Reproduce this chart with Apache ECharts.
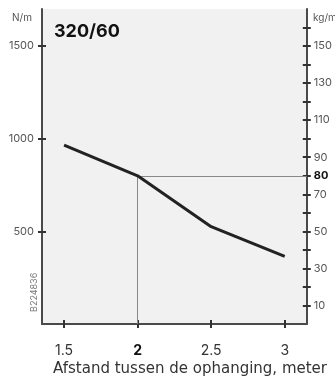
<!DOCTYPE html>
<html><head><meta charset="utf-8">
<script src="https://cdn.jsdelivr.net/npm/echarts@6/dist/echarts.min.js"></script>
<style>html,body{margin:0;padding:0;background:#fff}#c{width:335px;height:382px}</style>
</head><body><div id="c"></div>
<script>
const distances = [1.5, 2, 2.5, 3];
const loadNm = [965, 800, 525, 365];
const xTicks = [1.5, 2, 2.5, 3];
const leftTicks = [500, 1000, 1500];
const rightTicks = [10,20,30,40,50,60,70,80,90,100,110,120,130,140,150,160];
const rightLabels = [10,30,50,70,80,90,110,130,150];
const refX = 2, refY = 800, refKg = 80;
const xMin = 1.35, xMax = 3.15, yMax = 1700;

const FONT = 'Inter';
const axisColor = '#4a4a4a';
const tickStyle = {color:'#333',width:2};
const chart = echarts.init(document.getElementById('c'), null, {renderer:'canvas'});
chart.setOption({
  animation:false,
  textStyle:{fontFamily:FONT},
  grid:{left:42,right:28,top:9,bottom:58,show:true,backgroundColor:'#f1f1f1',borderWidth:0},
  xAxis:[
    {type:'value',min:xMin,max:xMax,position:'bottom',offset:-4,
     axisLine:{show:false,onZero:false},
     axisTick:{show:true,customValues:xTicks,length:8,lineStyle:tickStyle},
     axisLabel:{customValues:xTicks,margin:24,fontSize:14,color:'#333',fontFamily:FONT,
       formatter:v=> v===refX ? '{b|'+v+'}' : String(v),
       rich:{b:{fontWeight:'bold',fontSize:14,color:'#111',fontFamily:FONT}}},
     splitLine:{show:false}},
    {type:'value',min:xMin,max:xMax,position:'bottom',
     axisLine:{show:true,onZero:false,lineStyle:{color:axisColor,width:2}},
     axisTick:{show:false},axisLabel:{show:false},splitLine:{show:false}}
  ],
  yAxis:[
    {type:'value',min:0,max:yMax,position:'left',offset:-4,
     axisLine:{show:false,onZero:false},
     axisTick:{show:true,customValues:leftTicks,length:8,lineStyle:tickStyle},
     axisLabel:{customValues:leftTicks,margin:12,fontSize:11,color:'#555',fontFamily:FONT,
       formatter:v=>String(v)},
     splitLine:{show:false}},
    {type:'value',min:0,max:yMax/10,position:'right',offset:-4,
     axisLine:{show:false,onZero:false},
     axisTick:{show:true,customValues:rightTicks,length:8,lineStyle:tickStyle},
     axisLabel:{customValues:rightLabels,margin:11,fontSize:11,color:'#555',fontFamily:FONT,
       formatter:v=> v===refKg ? '{b|'+v+'}' : String(v),
       rich:{b:{fontWeight:'bold',fontSize:11,color:'#111',fontFamily:FONT}}},
     splitLine:{show:false}},
    {type:'value',min:0,max:yMax,position:'left',
     axisLine:{show:true,onZero:false,lineStyle:{color:axisColor,width:2}},
     axisTick:{show:false},axisLabel:{show:false},splitLine:{show:false}},
    {type:'value',min:0,max:yMax/10,position:'right',
     axisLine:{show:true,onZero:false,lineStyle:{color:axisColor,width:2}},
     axisTick:{show:false},axisLabel:{show:false},splitLine:{show:false}}
  ],
  graphic:[
    {type:'text',left:12,top:13,style:{text:'N/m',fontSize:10,fill:'#555',fontFamily:FONT}},
    {type:'text',left:313,top:13,style:{text:'kg/m',fontSize:10,fill:'#555',fontFamily:FONT}},
    {type:'text',left:54,top:23,style:{text:'320/60',fontSize:18,fontWeight:'bold',fill:'#111',fontFamily:FONT}},
    {type:'text',x:30,y:312,rotation:Math.PI/2,style:{text:'B224836',fontSize:9,fill:'#777',fontFamily:FONT}},
    {type:'text',left:53,top:362,style:{text:'Afstand tussen de ophanging, meter',fontSize:15,fill:'#333',fontFamily:'DejaVu Sans'}}
  ],
  series:[{
    type:'line',xAxisIndex:1,yAxisIndex:2,
    data:distances.map((d,i)=>[d,loadNm[i]]),
    symbol:'none',lineStyle:{color:'#222',width:3},
    markLine:{silent:true,symbol:'none',label:{show:false},
      lineStyle:{color:'#888',width:1,type:'solid'},
      data:[[{coord:[refX,refY]},{coord:[refX,0]}],[{coord:[refX,refY]},{coord:[xMax,refY]}]]},
    z:5
  }]
});
</script></body></html>
